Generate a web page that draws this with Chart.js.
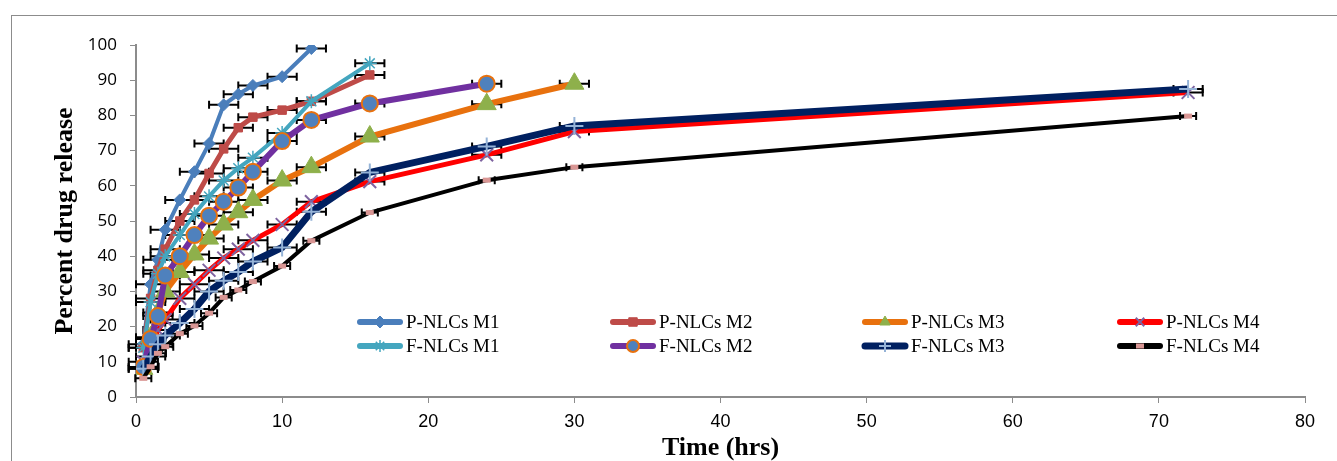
<!DOCTYPE html>
<html>
<head>
<meta charset="utf-8">
<script src="https://cdn.jsdelivr.net/npm/chart.js@4.4.1/dist/chart.umd.min.js"></script>
<style>
  html, body { margin: 0; padding: 0; background: #fff; }
  #wrap { width: 1337px; height: 461px; }
</style>
</head>
<body>
<div id="wrap"><canvas id="grafico" width="1337" height="461"></canvas></div>
<script>
// Tempos de coleta (h)
const tempos = [0.5, 1, 1.5, 2, 3, 4, 5, 6, 7, 8, 10, 12, 16, 24, 30, 72];

// Liberação (%) de cada formulação
const pM1 = [15, 32, 39, 47.5, 56, 64, 72, 83, 86, 88.5, 91, 99];
const pM2 = [14, 28, 36, 42, 50, 56, 63.5, 70.5, 76.5, 79.5, 81.5, 84, 91.5];
const pM3 = [8, 17, 24, 30, 35.5, 40.5, 45, 49, 52.5, 56, 61.5, 65.3, 74, 83.2, 89];
const pM4 = [10, 14, 19, 22, 28, 32, 36, 39.5, 42, 44.5, 49, 55.5, 61.2, 68.8, 75.4, 86.5];
const fM1 = [14, 27, 35, 40, 46, 52, 57, 61.5, 65, 68, 75, 84, 94.8];
const fM2 = [8.5, 16.5, 23, 34.5, 40, 46, 51.5, 55.5, 59.5, 64, 72.7, 78.7, 83.4, 89];
const fM3 = [8, 11.5, 15, 17.5, 21, 25, 30, 33, 35.5, 38.5, 42.5, 52.6, 63.8, 71.2, 77, 87.5];
const fM4 = [5.3, 8.6, 12.4, 14.3, 18, 20.2, 23.8, 28.3, 30.4, 32.8, 37.2, 44.4, 52.4, 61.6, 65.3, 79.8];

// Barras de erro no tempo (h), uma por série
const erroX = [1, 1, 1, 1, 1, 1, 1, 0.55];

const nomes = ["P-NLCs M1", "P-NLCs M2", "P-NLCs M3", "P-NLCs M4",
               "F-NLCs M1", "F-NLCs M2", "F-NLCs M3", "F-NLCs M4"];
const series = [pM1, pM2, pM3, pM4, fM1, fM2, fM3, fM4];
const xTicks = [0, 10, 20, 30, 40, 50, 60, 70, 80];
const yTicks = [0, 10, 20, 30, 40, 50, 60, 70, 80, 90, 100];

// Estilo de cada série (linha, marcador)
const estilos = [
  { cor: '#4A7EBB', largura: 4, ponto: 'rectRot',  raio: 6,  fundo: '#4A7EBB', borda: '#4A7EBB', bw: 1 },
  { cor: '#BE4B48', largura: 5, ponto: 'rect',     raio: 6,  fundo: '#BE4B48', borda: '#BE4B48', bw: 1 },
  { cor: '#E8710E', largura: 6, ponto: 'triangle', raio: 11, fundo: '#8EB04B', borda: '#8EB04B', bw: 1 },
  { cor: '#FF0000', largura: 5, ponto: 'crossRot', raio: 9,  fundo: '#7E63A0', borda: '#7E63A0', bw: 2 },
  { cor: '#44A6BF', largura: 4, ponto: 'star',     raio: 7,  fundo: '#44A6BF', borda: '#44A6BF', bw: 1.5 },
  { cor: '#7030A0', largura: 6, ponto: 'circle',   raio: 8,  fundo: '#4F81BD', borda: '#E8710E', bw: 2 },
  { cor: '#002060', largura: 7, ponto: 'cross',    raio: 9,  fundo: '#95B3D7', borda: '#95B3D7', bw: 2 },
  { cor: '#000000', largura: 4, ponto: 'line',     raio: 4,  fundo: '#D99694', borda: '#D99694', bw: 5 }
];

const datasets = series.map((vals, i) => {
  const e = estilos[i];
  return {
    label: nomes[i],
    data: vals.map((v, k) => ({ x: tempos[k], y: v })),
    borderColor: e.cor,
    backgroundColor: e.cor,
    borderWidth: e.largura,
    pointStyle: e.ponto,
    pointRadius: e.raio,
    pointBackgroundColor: e.fundo,
    pointBorderColor: e.borda,
    pointBorderWidth: e.bw,
    tension: 0,
    order: -i
  };
});

// Barras de erro horizontais
const barrasErro = {
  id: 'barrasErro',
  beforeDatasetsDraw(chart) {
    const { ctx, scales: { x, y } } = chart;
    ctx.save();
    ctx.strokeStyle = '#000';
    ctx.lineWidth = 2;
    chart.data.datasets.forEach((ds, i) => {
      ds.data.forEach(p => {
        const x0 = x.getPixelForValue(p.x - erroX[i]);
        const x1 = x.getPixelForValue(p.x + erroX[i]);
        const py = y.getPixelForValue(p.y);
        ctx.beginPath();
        ctx.moveTo(x0, py); ctx.lineTo(x1, py);
        ctx.moveTo(x0, py - 4); ctx.lineTo(x0, py + 4);
        ctx.moveTo(x1, py - 4); ctx.lineTo(x1, py + 4);
        ctx.stroke();
      });
    });
    ctx.restore();
  }
};

// Legenda em 2 linhas x 4 colunas dentro da área do gráfico
const legenda = {
  id: 'legenda',
  afterDraw(chart) {
    const { ctx } = chart;
    const colX = [357, 610, 862, 1117];
    const rowY = [322, 346];
    ctx.save();
    chart.data.datasets.forEach((ds, i) => {
      const x0 = colX[i % 4], x1 = x0 + 46, yy = rowY[Math.floor(i / 4)];
      ctx.lineCap = 'round';
      ctx.strokeStyle = ds.borderColor;
      ctx.lineWidth = Math.max(ds.borderWidth, 6);
      ctx.beginPath(); ctx.moveTo(x0 + 3, yy); ctx.lineTo(x1 - 3, yy); ctx.stroke();
      ctx.lineCap = 'butt';
      ctx.fillStyle = ds.pointBackgroundColor;
      ctx.strokeStyle = ds.pointBorderColor;
      ctx.lineWidth = ds.pointBorderWidth;
      Chart.helpers.drawPoint(ctx, { pointStyle: ds.pointStyle, radius: Math.min(ds.pointRadius, 6), rotation: 0, borderWidth: ds.pointBorderWidth }, (x0 + x1) / 2, yy);
      ctx.fillStyle = '#000';
      ctx.font = '19px "Liberation Serif", "Times New Roman", serif';
      ctx.textBaseline = 'middle';
      ctx.textAlign = 'left';
      ctx.fillText(ds.label, x1 + 3, yy + 1);
    });
    ctx.restore();
  }
};

// Moldura externa
const moldura = {
  id: 'moldura',
  beforeDraw(chart) {
    const { ctx } = chart;
    ctx.save();
    ctx.strokeStyle = '#8C8C8C';
    ctx.lineWidth = 1;
    ctx.strokeRect(11.5, 15.5, 1400, 500);
    ctx.restore();
  }
};

const eixoCor = '#8C8C8C';
const fonteTitulo = { family: '"Liberation Serif", "Times New Roman", serif', size: 26, weight: 'bold', lineHeight: 1 };

new Chart(document.getElementById('grafico').getContext('2d'), {
  type: 'line',
  data: { datasets },
  options: {
    responsive: false,
    animation: false,
    layout: { padding: { left: 0, right: 32, top: 45, bottom: 0 } },
    plugins: { legend: { display: false }, tooltip: { enabled: false } },
    scales: {
      x: {
        type: 'linear',
        min: 0, max: 80,
        afterBuildTicks: s => { s.ticks = xTicks.map(v => ({ value: v })); },
        afterFit: s => { s.height = 64; },
        grid: { drawOnChartArea: false, drawTicks: true, tickLength: 6, color: eixoCor, lineWidth: 1 },
        border: { color: eixoCor, width: 2 },
        ticks: {
          color: '#000', padding: 8, maxRotation: 0,
          font: { family: '"Liberation Sans Narrow", "Liberation Sans", Arial, sans-serif', size: 18 }
        },
        title: {
          display: true, text: 'Time (hrs)', color: '#000',
          font: fonteTitulo,
          padding: { top: 0, bottom: 0 }
        }
      },
      y: {
        min: 0, max: 100,
        afterBuildTicks: s => { s.ticks = yTicks.map(v => ({ value: v })); },
        afterFit: s => { s.width = 136; },
        grid: { drawOnChartArea: false, drawTicks: true, tickLength: 6, color: eixoCor, lineWidth: 1 },
        border: { color: eixoCor, width: 2 },
        ticks: {
          color: '#000', padding: 13,
          font: { family: '"Open Sans", "DejaVu Sans", sans-serif', size: 17 }
        },
        title: {
          display: true, text: 'Percent drug release', color: '#000',
          font: fonteTitulo,
          padding: { top: 52, bottom: 0 }
        }
      }
    }
  },
  plugins: [moldura, barrasErro, legenda]
});
</script>
</body>
</html>
